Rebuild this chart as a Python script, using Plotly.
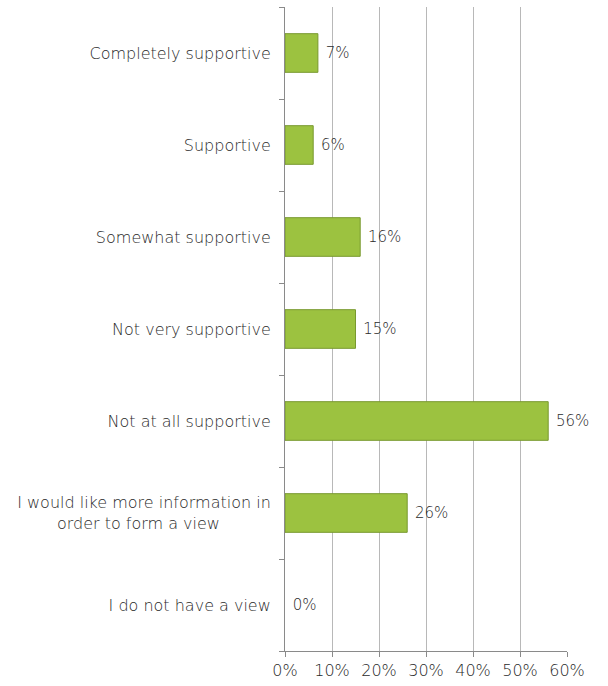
import plotly.graph_objects as go

categories = [
    "Completely supportive",
    "Supportive",
    "Somewhat supportive",
    "Not very supportive",
    "Not at all supportive",
    "I would like more information in<br>order to form a view\u00a0\u00a0\u00a0\u00a0\u00a0\u00a0\u00a0\u00a0\u00a0\u00a0",
    "I do not have a view",
]
values = [7, 6, 16, 15, 56, 26, 0]
labels = ["7%", "6%", "16%", "15%", "56%", "26%", "0%"]
x_ticks = [0, 10, 20, 30, 40, 50, 60]
x_tick_text = ["0%", "10%", "20%", "30%", "40%", "50%", "60%"]

font_family = "'DejaVu Sans', sans-serif"
font_weight = 200
text_color = "#2a2a2a"

fig = go.Figure()
fig.add_trace(go.Bar(
    y=categories,
    x=values,
    orientation="h",
    width=0.42,
    marker=dict(color="#9cc240",
                line=dict(color="#78992e", width=[0 if v == 0 else 1 for v in values])),
    text=labels,
    texttemplate=" %{text}",
    textposition="outside",
    textfont=dict(family=font_family, size=15, color=text_color, weight=font_weight),
    cliponaxis=False,
    hoverinfo="skip",
))

fig.update_layout(
    width=608,
    height=686,
    margin=dict(l=285, r=41, t=7, b=35),
    paper_bgcolor="white",
    plot_bgcolor="white",
    showlegend=False,
    font=dict(family=font_family, color=text_color, weight=font_weight),
)
fig.update_xaxes(
    range=[0, 60],
    tickvals=x_ticks,
    ticktext=x_tick_text,
    showgrid=True,
    gridcolor="#b8b8b8",
    gridwidth=1,
    showline=True,
    linecolor="#8a8a8a",
    ticks="outside",
    ticklen=5,
    tickcolor="#8a8a8a",
    tickfont=dict(family=font_family, size=16, color=text_color, weight=font_weight),
    zeroline=False,
    fixedrange=True,
)
fig.update_yaxes(
    categoryorder="array",
    categoryarray=categories[::-1],
    autorange=False,
    range=[-0.5, 6.5],
    showline=True,
    linecolor="#8a8a8a",
    ticks="outside",
    tickson="boundaries",
    ticklen=5,
    tickcolor="#8a8a8a",
    ticklabelstandoff=10,
    tickfont=dict(family=font_family, size=16, color=text_color, weight=font_weight),
    showgrid=False,
    fixedrange=True,
)

fig.write_html("out.html")
